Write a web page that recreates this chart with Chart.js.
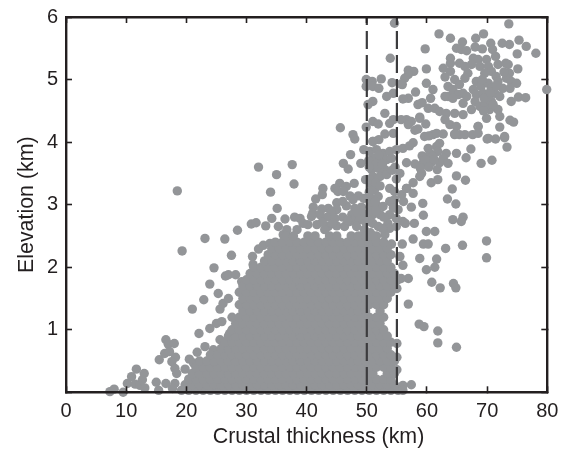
<!DOCTYPE html>
<html><head><meta charset="utf-8">
<style>html,body{margin:0;padding:0;background:#fff}canvas{display:block}</style>
<script src="https://cdn.jsdelivr.net/npm/chart.js@4"></script>
</head><body><canvas id="c" width="567" height="451"></canvas>
<script>
const xTitle = "Crustal thickness (km)";
const yTitle = "Elevation (km)";
const xTicks = [0,10,20,30,40,50,60,70,80];
const yTicks = ['',1,2,3,4,5,6];
const dashedAt = [50,55];

// Separate points: [thickness, elevation]
const lowTail = [[7.3,.01],[8,.05],[9.5,0],[10.2,.14],[10.9,.25],[11.7,.37],[13,.30],[12.7,.2],[11.5,.13],[12.3,.11],[13.1,.07],[15,.16],[15.4,.03],[16.6,.14],[15.5,.52],[16.6,.84],[17,.77],[18,.78],[16.4,.62],[17.2,.65],[18.2,.56],[17.6,.49],[18.1,.38],[18.4,.30],[18.1,.14],[17.7,.06],[19.8,.37],[20.5,.53],[21.2,.47],[21.8,.64],[22.1,.94],[23.1,.73],[24.5,.68],[23.9,1.02],[25,1.1],[25.9,1.13],[25.6,.84],[27.2,.94],[21,1.33],[22.9,1.48],[25.6,1.33],[26.1,1.42],[25.3,1.58],[27,1.5],[23.9,1.73],[19.3,2.26],[18.5,3.22],[23.1,2.46],[26.4,2.45],[28.5,2.59],[27.5,2.19],[24.6,1.99],[26.5,1.86],[27,1.88],[28.2,1.88],[29.2,1.77],[31,2.17],[31.1,2.04],[32,2.29],[32.8,2.35],[33.9,2.38]];

const upperEdge = [[45.6,4.23],[47.7,4.12],[48,4.05],[32,3.6],[37.6,3.64],[35,3.48],[37.9,3.33],[34,3.2],[47.3,3.8],[46.1,3.66],[46.9,3.57],[49,3.66],[49.5,3.88],[49.8,3.4],[47.9,3.34],[45.5,3.34],[44.7,3.26],[45.2,3.21],[46.6,3.29],[46.1,3.21],[42.7,3.26],[42.6,3.16],[41.5,3.09],[41.1,2.96],[41,2.86],[42.5,2.93],[42.2,2.84],[43.6,2.94],[45,3.03],[45,2.92],[44.1,2.89],[47.2,3.14],[48.6,3.14],[47.7,3.08],[49.1,2.96],[46.6,2.98],[48,2.94],[47.5,2.84],[48,2.78],[48.8,2.76],[35.1,2.94],[34.2,2.78],[36.4,2.77],[38,2.8],[38.9,2.78],[39.4,2.7],[40.8,2.81],[40.2,2.68],[41.7,2.68],[43.6,2.65],[45,2.66],[46.3,2.65],[30.8,2.69],[31.6,2.71],[33.2,2.66],[35.3,2.65],[36.7,2.6],[36.1,2.52],[47.2,2.73],[48.3,2.65],[38.4,2.6],[43,2.6],[49.6,2.6],[46,2.8],[46.8,2.75],[49.6,2.85],[49.5,3.1],[48.4,2.88],[43.4,2.8],[44.7,2.78],[46,3.05],[49.8,2.72],[42.6,2.72],[44.3,2.7]];

const column5055 = [[51,4.01],[52,4.04],[53,4.13],[54.4,4.14],[50.5,3.85],[51.6,3.88],[52.7,3.82],[53.8,3.85],[54.9,3.88],[56,3.9],[51,3.74],[52.2,3.72],[53.3,3.72],[54.1,3.74],[50.8,3.56],[51.9,3.58],[53,3.56],[55.5,3.5],[51,3.45],[52.2,3.45],[53.3,3.48],[54.9,3.41],[50.8,3.32],[51.3,3.24],[53.8,3.26],[54.6,3.21],[55.8,3.16],[56.6,3.26],[50.8,3.1],[51.9,3.13],[53.8,3.05],[54.6,3.08],[50.8,3],[51.9,2.97],[52.7,2.97],[55.2,2.92],[51,2.84],[52.2,2.84],[53.8,2.84],[54.9,2.78],[56,2.73],[51,2.7],[51.9,2.65],[53.5,2.7],[53.8,2.62],[54.9,2.65],[53,2.52],[52.4,2.36],[54.1,2.37],[55.9,2.37],[50.6,2.55],[51.6,2.5],[50.3,3.7],[51.5,3.65],[52.6,3.65],[50.5,3.4],[51.5,3.35],[50.4,3.2],[51.4,3.05],[50.6,2.9],[51.5,2.9],[52.8,2.8],[50.3,2.75],[52.2,3.3],[54.4,2.95],[52.6,2.62],[50.4,3.6],[54.7,3.6],[54.2,3.55],[52,3.8]];

const midScatter = [[54.6,5.9],[53.9,5.34],[79.9,4.84],[56.9,5.15],[57.8,5.13],[56.9,5.08],[56.3,5.02],[55.9,4.92],[49.9,5],[50.9,4.97],[52.4,5.01],[49.9,4.89],[51,4.89],[52,4.86],[54.2,4.95],[55.7,4.93],[58.1,4.8],[54.4,4.78],[53.3,4.73],[56.9,4.7],[56,4.69],[51,4.65],[50.2,4.6],[58.5,4.6],[53,4.46],[58.8,4.38],[56.6,4.36],[57.4,4.33],[55.7,4.36],[54.4,4.36],[53.8,4.3],[51,4.33],[51.9,4.29],[49.9,4.24],[58,4.19],[58.5,4.21],[56.9,4.28],[59.6,4.09],[61,4.12],[60.3,4.1],[57.7,3.99],[57.1,3.94],[62.1,3.98],[61.6,3.93],[60.2,3.9],[59.2,3.78],[60.5,3.82],[61.8,3.85],[63.2,3.82],[62.7,3.74],[64.9,3.82],[66.5,3.75],[67.3,3.89],[69,3.66],[70.8,3.71],[56.6,3.67],[58,3.65],[59.3,3.66],[60.7,3.67],[62.1,3.67],[63.5,3.66],[59.1,3.5],[58.8,3.45],[60.7,3.35],[61.8,3.4],[64.9,3.46],[66.4,3.39],[61.7,3.56],[57.7,3.35],[56.6,3.26],[57.7,3.18],[59.3,3.02],[64.2,3.25],[63.4,3.09],[64.8,3.01],[60.9,3.77],[61.2,3.72],[59.7,3.72],[60.3,3.6],[58.9,3.58],[70,4.05],[71.4,4.05],[72.9,4.07],[73.3,3.92],[64.6,4.12],[65.4,4.12],[67.6,4.12],[68.5,4.25],[51,4.01]];

const upperRight = [[73.6,5.89],[62,5.73],[63.9,5.66],[65.9,5.6],[68.1,5.66],[69.4,5.73],[70.6,5.58],[72.5,5.58],[73.7,5.56],[75.3,5.63],[76.5,5.53],[78.1,5.42],[75,5.41],[59.7,5.49],[64.9,5.5],[65.7,5.48],[66.6,5.46],[68,5.52],[69.2,5.49],[70.9,5.48],[71.4,5.37],[63.9,5.34],[63.9,5.26],[67.7,5.34],[68.5,5.32],[69.9,5.32],[67.4,5.24],[65.4,5.26],[66.3,5.21],[66.8,5.1],[66.3,5.02],[62.7,5.18],[63.9,5.13],[63,5.04],[59.9,5.17],[73.1,5.26],[73.5,5.24],[75.1,5.17],[71.8,5.24],[68.8,5.21],[70.2,5.21],[70.7,5.13],[69.6,5.1],[71.5,5.05],[71.8,4.97],[73.7,5.1],[73.2,5.02],[74,4.97],[74.9,4.94],[68.2,4.97],[69,4.89],[70.2,4.94],[70.7,4.86],[72.6,4.86],[73.8,4.86],[71.3,4.78],[72.1,4.73],[74,4.65],[75.2,4.72],[76.4,4.71],[59.9,4.94],[61,4.84],[60.6,4.7],[64.6,5],[65.4,4.92],[63.5,4.89],[63.5,4.73],[63,4.73],[64.3,4.84],[65.2,4.76],[66,4.78],[66.6,4.73],[64.3,4.7],[66,4.62],[67.7,4.84],[68.2,4.76],[68,4.65],[68.8,4.57],[69.3,4.78],[70.2,4.73],[69.6,4.62],[70.7,4.65],[71.8,4.52],[70.4,4.52],[69.9,4.38],[72.1,4.41],[73.8,4.35],[74.4,4.32],[72.1,4.24],[68.5,4.25],[59.2,4.63],[60.2,4.54],[61.3,4.54],[62.1,4.49],[63.2,4.46],[64.6,4.46],[66,4.44],[67.4,4.52],[58.8,4.4],[59.8,4.29],[63,4.36],[63.8,4.28],[64.9,4.25],[64.6,4.13],[66.3,4.12],[68.5,4.14],[61.6,4.14],[62.7,4.13],[70.2,4.06],[72.9,4.09],[69.5,4.7],[71,4.6],[69.4,4.5],[70.5,4.8],[71.5,4.9],[72.8,5.12],[69.2,5]];

const low5565 = [[69.9,2.42],[69.9,2.15],[66,2.8],[65.7,2.73],[64.3,2.76],[65.9,2.35],[63.1,2.3],[61.3,2.57],[59.9,2.57],[59.4,2.37],[60.2,2.37],[57.7,2.45],[59.4,2.83],[57.9,2.7],[57.4,2.96],[58.8,2.14],[61.6,2.13],[59.9,1.96],[61.3,2],[56.9,1.82],[60.8,1.76],[62.2,1.67],[64.4,1.74],[64.8,1.67],[56.9,1.41],[58.7,1.09],[59.5,1.05],[61.8,.98],[61.8,.79],[64.9,.72],[57.4,.12],[56,.11],[55,1.66],[56,2.03],[55.5,2.17],[56.4,2.7],[55.7,1.82],[56.1,3.05],[55,.56],[55,.78],[55,.36]];

// The solid mass cannot be read dot by dot; these rows are eye estimates that
// follow its outline: first entry of each row is the elevation, then thicknesses.
const denseRows = [
[.03,19.2,20.4,21.6,22.8,24,25.2,26.4,27.6,28.8,30,31.2,32.4,33.6,34.8,36,37.2,38.4,39.6,40.8,42,43.2,44.4,45.6,46.8,48,49.2,50.4,51.6,52.8,54,55.2,56],
[.12,19.8,21,22.2,23.4,24.6,25.8,27,28.2,29.4,30.6,31.8,33,34.2,35.4,36.6,37.8,39,40.2,41.4,42.6,43.8,45,46.2,47.4,48.6,49.8,51,52.2,53.4,54.6],
[.21,20.4,21.6,22.8,24,25.2,26.4,27.6,28.8,30,31.2,32.4,33.6,34.8,36,37.2,38.4,39.6,40.8,42,43.2,44.4,45.6,46.8,48,49.2,50.4,51.6,52.8,54],
[.3,21,22.2,23.4,24.6,25.8,27,28.2,29.4,30.6,31.8,33,34.2,35.4,36.6,37.8,39,40.2,41.4,42.6,43.8,45,46.2,47.4,48.6,49.8,51,53.4,54.6],
[.4,21.6,22.8,24,25.2,26.4,27.6,28.8,30,31.2,32.4,33.6,34.8,36,37.2,38.4,39.6,40.8,42,43.2,44.4,45.6,46.8,48,49.2,50.4,51.6,52.8,54],
[.5,22.2,23.4,24.6,25.8,27,28.2,29.4,30.6,31.8,33,34.2,35.4,36.6,37.8,39,40.2,41.4,42.6,43.8,45,46.2,47.4,48.6,49.8,51,52.2,53.4,54.6],
[.6,24,25.2,26.4,27.6,28.8,30,31.2,32.4,33.6,34.8,36,37.2,38.4,39.6,40.8,42,43.2,44.4,45.6,46.8,48,49.2,50.4,51.6,52.8,54],
[.7,25.8,27,28.2,29.4,30.6,31.8,33,34.2,35.4,36.6,37.8,39,40.2,41.4,42.6,43.8,45,46.2,47.4,48.6,49.8,51,52.2,53.4],
[.8,26.4,27.6,28.8,30,31.2,32.4,33.6,34.8,36,37.2,38.4,39.6,40.8,42,43.2,44.4,45.6,46.8,48,49.2,50.4,51.6,52.8,54],
[.9,27,28.2,29.4,30.6,31.8,33,34.2,35.4,36.6,37.8,39,40.2,41.4,42.6,43.8,45,46.2,47.4,48.6,49.8,51,52.2,53.4],
[1,27.6,28.8,30,31.2,32.4,33.6,34.8,36,37.2,38.4,39.6,40.8,42,43.2,44.4,45.6,46.8,48,49.2,50.4,51.6,52.8],
[1.1,28.2,29.4,30.6,31.8,33,34.2,35.4,36.6,37.8,39,40.2,41.4,42.6,43.8,45,46.2,47.4,48.6,49.8,51,52.2],
[1.2,27.6,28.8,30,31.2,32.4,33.6,34.8,36,37.2,38.4,39.6,40.8,42,43.2,44.4,45.6,46.8,48,49.2,50.4,51.6,52.8],
[1.3,29.4,30.6,31.8,33,34.2,35.4,36.6,37.8,39,40.2,41.4,42.6,43.8,45,46.2,47.4,48.6,49.8,52.2],
[1.4,28.8,30,31.2,32.4,33.6,34.8,36,37.2,38.4,39.6,40.8,42,43.2,44.4,45.6,46.8,48,49.2,50.4,51.6,52.8],
[1.5,29.4,30.6,31.8,33,34.2,35.4,36.6,37.8,39,40.2,41.4,42.6,43.8,45,46.2,47.4,48.6,49.8,51,52.2,53.4],
[1.6,28.8,30,31.2,32.4,33.6,34.8,36,37.2,38.4,39.6,40.8,42,43.2,44.4,45.6,46.8,48,49.2,50.4,51.6,52.8,54],
[1.7,29.4,30.6,31.8,33,34.2,35.4,36.6,37.8,39,40.2,41.4,42.6,43.8,45,46.2,47.4,48.6,49.8,51,52.2,53.4,54.6],
[1.8,30,31.2,32.4,33.6,34.8,36,37.2,38.4,39.6,40.8,42,43.2,44.4,45.6,46.8,48,49.2,50.4,51.6,52.8,54,55.2],
[1.9,30.6,31.8,33,34.2,35.4,36.6,37.8,39,40.2,41.4,42.6,43.8,45,46.2,47.4,48.6,49.8,51,52.2,53.4,54.6],
[2,31.2,32.4,33.6,34.8,36,37.2,38.4,39.6,40.8,42,43.2,44.4,45.6,46.8,48,49.2,50.4,51.6,52.8,54],
[2.1,33,34.2,35.4,36.6,37.8,39,40.2,41.4,42.6,43.8,45,46.2,47.4,48.6,49.8,51,52.2,53.4],
[2.2,33.6,34.8,36,37.2,38.4,39.6,40.8,42,43.2,44.4,45.6,46.8,48,49.2,50.4,51.6,52.8,54],
[2.3,34.2,35.4,36.6,37.8,39,40.2,41.4,42.6,43.8,45,46.2,47.4,48.6,49.8,51,52.2,53.4],
[2.4,34.8,36,37.2,38.4,39.6,40.8,42,43.2,44.4,45.6,46.8,48,49.2,50.4,51.6,52.8],
[2.5,36.6,37.8,40.2,41.4,43.8,45,47.4,48.6,49.8,51]
];

const points = [];
for (const list of [lowTail, upperEdge, column5055, midScatter, upperRight, low5565]) {
  for (const p of list) points.push({x:p[0], y:p[1]});
}
for (const row of denseRows) {
  for (let i = 1; i < row.length; i++) points.push({x:row[i], y:row[0]});
}

const INK = '#231f20', GREY = '#939598';
const fixSize = (prop, v) => s => {
  s[prop] = v;
  s.paddingTop = s.paddingBottom = s.paddingLeft = s.paddingRight = 0;
};
const baseAxis = (min, max) => ({
  type:'linear', min, max,
  grid:{drawOnChartArea:false, color:INK, tickColor:INK, tickWidth:1.6, tickLength:-6, z:1},
  border:{color:INK, width:2.4, z:1}
});
const family = '"Liberation Sans", Arial, sans-serif';
const tickFont = {family, size:20};
const titleFont = {family, size:21.4};

const lineSet = v => ({
  type:'line', data:[{x:v,y:6},{x:v,y:0}], showLine:true, pointRadius:0,
  borderColor:'#3c3c3e', borderWidth:2.2, borderDash:[18,6], borderDashOffset:10, order:1, fill:false
});

// The x title sits right of the plot centre in the reference, which a scale title cannot do.
const xTitlePlugin = {
  id:'xTitleText',
  afterDraw(chart){
    const c = chart.ctx;
    c.save();
    c.font = `${titleFont.size}px ${family}`;
    c.fillStyle = INK;
    c.textAlign = 'center';
    c.textBaseline = 'middle';
    c.fillText(xTitle, 318.5, 437);
    c.restore();
  }
};

new Chart(document.getElementById('c'), {
  type:'scatter',
  plugins:[xTitlePlugin],
  data:{datasets:[
    ...dashedAt.map(lineSet),
    {data:points, pointRadius:4.7, pointBorderWidth:0, pointBackgroundColor:GREY, backgroundColor:GREY, order:2, clip:false}
  ]},
  options:{
    responsive:false, animation:false, devicePixelRatio:1,
    layout:{padding:0},
    plugins:{legend:{display:false}, title:{display:false}, tooltip:{enabled:false}},
    events:[],
    scales:{
      x:{...baseAxis(0,80), position:'bottom', afterFit:fixSize('height',58.7),
         afterBuildTicks:s=>{s.ticks=xTicks.map(v=>({value:v}));},
         ticks:{color:INK, font:tickFont, padding:13, maxRotation:0, autoSkip:false, callback:v=>String(v)}},
      y:{...baseAxis(0,6), position:'left', afterFit:fixSize('width',66),
         afterBuildTicks:s=>{s.ticks=yTicks.map((l,i)=>({value:i}));},
         ticks:{color:INK, font:tickFont, padding:14, autoSkip:false, callback:(v,i)=>String(yTicks[i])},
         title:{display:true, text:yTitle, color:INK, font:titleFont, padding:{top:14,bottom:0}}},
      x2:{...baseAxis(0,80), position:'top', afterFit:fixSize('height',17),
         afterBuildTicks:s=>{s.ticks=xTicks.map(v=>({value:v}));},
         ticks:{display:false}},
      y2:{...baseAxis(0,6), position:'right', afterFit:fixSize('width',19.7),
         afterBuildTicks:s=>{s.ticks=yTicks.map((l,i)=>({value:i}));},
         ticks:{display:false},
         grid:{drawOnChartArea:false, color:INK, tickColor:INK, tickWidth:1.6, tickLength:-6, z:-1},
         border:{color:INK, width:2.4, z:-1}}
    }
  }
});
</script></body></html>
